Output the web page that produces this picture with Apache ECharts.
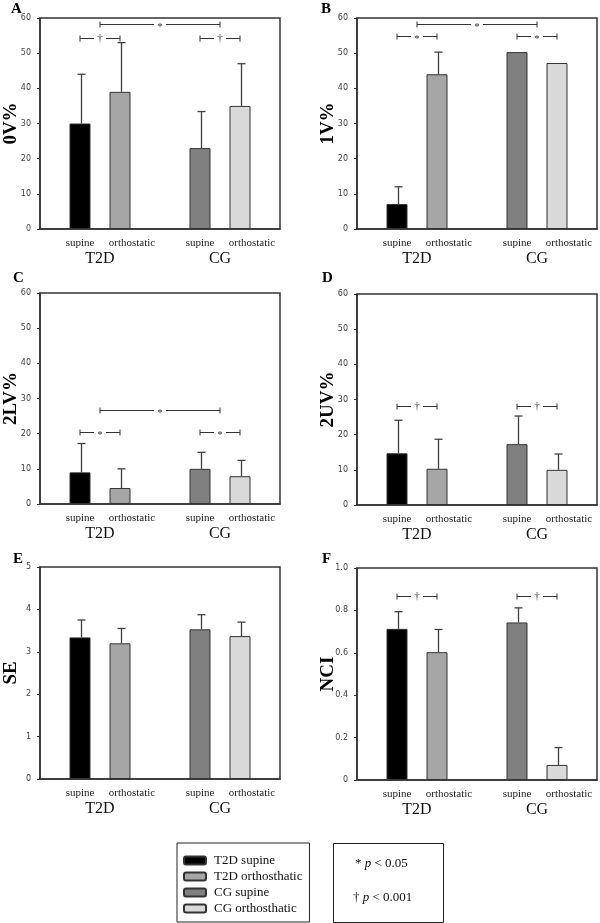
<!DOCTYPE html>
<html><head><meta charset="utf-8">
<script src="https://cdn.jsdelivr.net/npm/echarts@6/dist/echarts.min.js"></script>
<style>html,body{margin:0;padding:0;background:#fff}#c{width:600px;height:923px}</style>
</head><body><div id="c"></div>
<script>
// ---- data ----
const barLabels = ['supine', 'orthostatic', 'supine', 'orthostatic'];
const groupLabels = ['T2D', 'CG'];
const seriesNames = ['T2D supine', 'T2D orthosthatic', 'CG supine', 'CG orthosthatic'];
const panelLetters = ['A', 'B', 'C', 'D', 'E', 'F'];
const yAxisNames = ['0V%', '1V%', '2LV%', '2UV%', 'SE', 'NCI'];

const pctTicks = ['0', '10', '20', '30', '40', '50', '60'];
const seTicks = ['0', '1', '2', '3', '4', '5'];
const nciTicks = ['0', '0.2', '0.4', '0.6', '0.8', '1.0'];

const mean0V = [30, 39, 23, 35];
const sd0V = [14, 14, 10.4, 12];
const mean1V = [7.1, 44, 50.3, 47.2];
const sd1V = [4.9, 6.3, 0, 0];
const mean2LV = [9, 4.55, 10, 7.9];
const sd2LV = [8.2, 5.45, 4.7, 4.5];
const mean2UV = [14.7, 10.3, 17.3, 10];
const sd2UV = [9.4, 8.4, 8, 4.5];
const meanSE = [3.34, 3.2, 3.53, 3.37];
const sdSE = [0.41, 0.35, 0.345, 0.33];
const meanNCI = [0.713, 0.603, 0.743, 0.071];
const sdNCI = [0.081, 0.107, 0.069, 0.082];

// significance brackets: [from, to, level, mark]; from/to = bar index or group label
const sig0V = [['T2D', 'CG', 58.3, '*'], [0, 1, 54.4, '†'], [2, 3, 54.4, '†']];
const sig1V = [['T2D', 'CG', 58.3, '*'], [0, 1, 54.9, '*'], [2, 3, 54.9, '*']];
const sig2LV = [['T2D', 'CG', 26.8, '*'], [0, 1, 20.6, '*'], [2, 3, 20.6, '*']];
const sig2UV = [[0, 1, 28.2, '†'], [2, 3, 28.2, '†']];
const sigSE = [];
const sigNCI = [[0, 1, 0.87, '†'], [2, 3, 0.87, '†']];

// ---- layout / style ----
const colors = ['#000000', '#a6a6a6', '#808080', '#d9d9d9'];
const grids = [
  {left: 40, top: 18, width: 240, height: 211},
  {left: 357, top: 18, width: 240, height: 211},
  {left: 40, top: 293, width: 240, height: 211},
  {left: 357, top: 294, width: 240, height: 211},
  {left: 40, top: 567, width: 240, height: 212},
  {left: 357, top: 568, width: 240, height: 212}
];
const letterPos = [[11, 2], [321, 2], [13, 271], [322, 271], [13, 552], [322, 552]];
const serif = 'Liberation Serif';

const panels = [
  {mean: mean0V, sd: sd0V, sig: sig0V, ticks: pctTicks},
  {mean: mean1V, sd: sd1V, sig: sig1V, ticks: pctTicks},
  {mean: mean2LV, sd: sd2LV, sig: sig2LV, ticks: pctTicks},
  {mean: mean2UV, sd: sd2UV, sig: sig2UV, ticks: pctTicks},
  {mean: meanSE, sd: sdSE, sig: sigSE, ticks: seTicks},
  {mean: meanNCI, sd: sdNCI, sig: sigNCI, ticks: nciTicks}
];

// bar slots: two groups of two bars with an empty slot between groups
const barPos = barLabels.map((_, i) => i + 1 + Math.floor(i / 2));
const groupPos = groupLabels.map((_, g) => (barPos[2 * g] + barPos[2 * g + 1]) / 2);
const xMax = barPos[barPos.length - 1] + 1;
function keyPos(k) { return typeof k === 'number' ? barPos[k] : groupPos[groupLabels.indexOf(k)]; }

function errRender(params, api) {
  const x = api.value(0), lo = api.value(1), hi = api.value(2);
  const pLo = api.coord([x, lo]), pHi = api.coord([x, hi]);
  const cx = Math.round(pLo[0]) + 1.5;
  const st = {stroke: '#404040', lineWidth: 1.3};
  return {type: 'group', children: [
    {type: 'line', shape: {x1: cx, y1: pLo[1], x2: cx, y2: pHi[1]}, style: st},
    {type: 'line', shape: {x1: cx - 4, y1: pHi[1], x2: cx + 4, y2: pHi[1]}, style: st}
  ]};
}
function sigRender(marks) {
  return function (params, api) {
    const a = api.coord([api.value(0), api.value(2)]);
    const b = api.coord([api.value(1), api.value(2)]);
    const y = Math.round(a[1]) + 0.5;
    const m = (a[0] + b[0]) / 2, g = 6, h = 3;
    const st = {stroke: '#333', lineWidth: 1};
    const mk = marks[params.dataIndex];
    return {type: 'group', children: [
      {type: 'line', shape: {x1: a[0], y1: y, x2: m - g, y2: y}, style: st},
      {type: 'line', shape: {x1: m + g, y1: y, x2: b[0], y2: y}, style: st},
      {type: 'line', shape: {x1: a[0], y1: y - h, x2: a[0], y2: y + h}, style: st},
      {type: 'line', shape: {x1: b[0], y1: y - h, x2: b[0], y2: y + h}, style: st},
      {type: 'text', x: m, y: y + (mk === '*' ? 3 : 0), style: {text: mk, align: 'center', verticalAlign: 'middle', fontSize: 11, fontFamily: serif, fill: '#333'}}
    ]};
  };
}

const option = {
  animation: false,
  backgroundColor: '#fff',
  title: panelLetters.map((t, p) => ({text: t, left: letterPos[p][0], top: letterPos[p][1], padding: 0,
    textStyle: {fontFamily: serif, fontWeight: 'bold', fontSize: 15, color: '#000'}})),
  grid: grids.map(g => Object.assign({show: true, borderColor: '#333', borderWidth: 1.5, backgroundColor: 'transparent',
    containLabel: false, outerBoundsMode: 'none'}, g)),
  xAxis: [], yAxis: [], series: [],
  legend: {
    data: seriesNames, orient: 'vertical', left: 177, top: 843,
    itemWidth: 22, itemHeight: 8, itemGap: 1, selectedMode: false,
    padding: [10, 7, 6, 6], borderColor: '#222', borderWidth: 1,
    textStyle: {fontFamily: serif, fontSize: 13, color: '#111', lineHeight: 15, padding: [0, 0, 0, 3]}
  },
  graphic: [
    {type: 'rect', left: 333, top: 843, shape: {width: 110, height: 79}, style: {fill: '#fff', stroke: '#222', lineWidth: 1}},
    {type: 'text', left: 355, top: 857, style: {text: '{n|* }{i|p}{n| < 0.05}',
      rich: {n: {fontFamily: serif, fontSize: 13, fill: '#111'}, i: {fontFamily: serif, fontSize: 13, fontStyle: 'italic', fill: '#111'}}}},
    {type: 'text', left: 353, top: 891, style: {text: '{n|† }{i|p}{n| < 0.001}',
      rich: {n: {fontFamily: serif, fontSize: 13, fill: '#111'}, i: {fontFamily: serif, fontSize: 13, fontStyle: 'italic', fill: '#111'}}}}
  ]
};

panels.forEach((pn, p) => {
  const ticks = pn.ticks;
  const interval = Number(ticks[1]);
  const yMax = Number(ticks[ticks.length - 1]);
  option.yAxis.push({
    type: 'value', gridIndex: p, min: 0, max: yMax, interval: interval,
    name: yAxisNames[p], nameLocation: 'middle', nameRotate: 90, nameGap: 19, nameMoveOverlap: false,
    nameTextStyle: {fontFamily: serif, fontWeight: 'bold', fontSize: 19, color: '#000'},
    axisLine: {show: true, lineStyle: {color: '#333', width: 1.5}},
    axisTick: {show: true, length: 3, lineStyle: {color: '#333'}},
    axisLabel: {margin: 9, fontFamily: 'DejaVu Sans', fontSize: 8, color: '#444',
      formatter: v => ticks[Math.round(v / interval)]},
    splitLine: {show: false}
  });
  option.xAxis.push({
    type: 'value', gridIndex: p, min: 0, max: xMax, interval: 1, position: 'bottom',
    axisLine: {show: true, onZero: false, lineStyle: {color: '#333', width: 1.5}},
    axisTick: {show: false}, splitLine: {show: false},
    axisLabel: {margin: 9, fontFamily: serif, fontSize: 11, color: '#222',
      showMinLabel: true, showMaxLabel: true,
      rich: {s: {fontFamily: serif, fontSize: 11, color: '#222'},
             o: {fontFamily: serif, fontSize: 11, color: '#222', padding: [0, 0, 0, 24]}},
      formatter: v => {
        const i = barPos.findIndex(b => Math.abs(b - v) < 1e-6);
        return i >= 0 ? '{' + (i % 2 ? 'o' : 's') + '|' + barLabels[i] + '}' : '';
      }}
  });
  option.xAxis.push({
    type: 'value', gridIndex: p, min: 0, max: xMax, interval: (groupPos[1] - groupPos[0]) / 2, position: 'bottom',
    axisLine: {show: false}, axisTick: {show: false}, splitLine: {show: false},
    axisLabel: {margin: 22, fontFamily: serif, fontSize: 16, color: '#111',
      formatter: v => { const i = groupPos.findIndex(b => Math.abs(b - v) < 1e-6); return i >= 0 ? groupLabels[i] : ''; }}
  });
  pn.mean.forEach((m, i) => {
    option.series.push({
      type: 'bar', name: seriesNames[i], xAxisIndex: 2 * p, yAxisIndex: p,
      data: [[barPos[i], m]], barWidth: 21, barGap: '-100%',
      itemStyle: {color: colors[i], borderColor: '#333', borderWidth: 1}
    });
  });
  option.series.push({
    type: 'custom', xAxisIndex: 2 * p, yAxisIndex: p, renderItem: errRender, z: 5,
    encode: {x: 0, y: [1, 2]},
    data: pn.mean.map((m, i) => [barPos[i], m, m + pn.sd[i]]).filter((d, i) => pn.sd[i] > 0)
  });
  if (pn.sig.length) {
    option.series.push({
      type: 'custom', xAxisIndex: 2 * p, yAxisIndex: p, renderItem: sigRender(pn.sig.map(s => s[3])), z: 6,
      encode: {x: [0, 1], y: 2},
      data: pn.sig.map(s => [keyPos(s[0]), keyPos(s[1]), s[2]])
    });
  }
});

const chart = echarts.init(document.getElementById('c'), null, {renderer: 'canvas'});
chart.setOption(option);
</script>
</body></html>
